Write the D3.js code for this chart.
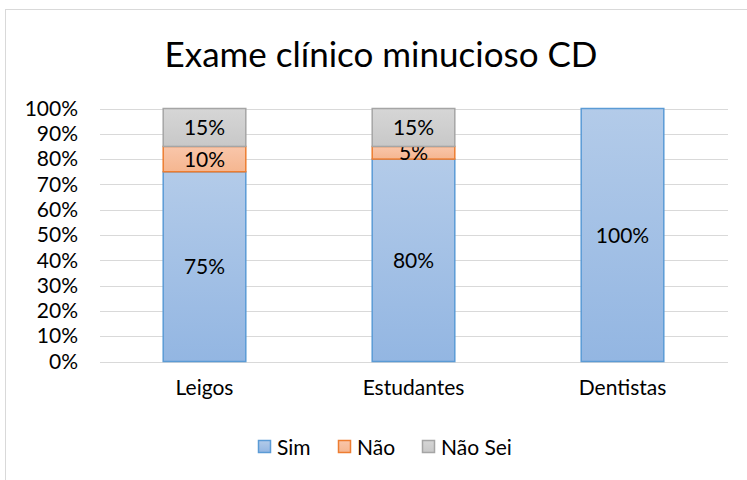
<!DOCTYPE html>
<html>
<head>
<meta charset="utf-8">
<script src="https://cdn.jsdelivr.net/npm/d3@7"></script>
<style>
  body { margin: 0; background: #fff; }
  svg { font-family: Lato, 'Open Sans', sans-serif; }
</style>
</head>
<body>
<div id="chart"></div>
<script>
const categories = ['Leigos', 'Estudantes', 'Dentistas'];
const seriesNames = ['Sim', 'Não', 'Não Sei'];
const sim = [75, 80, 100];
const nao = [10, 5, 0];
const naoSei = [15, 15, 0];
const yTicks = [0, 10, 20, 30, 40, 50, 60, 70, 80, 90, 100];

const width = 747;
const height = 480;
const labelSize = 21;

const colors = {
  'Sim': { top: '#b3cbe9', bottom: '#93b6e2', stroke: '#5b9bd5' },
  'Não': { top: '#f9c6aa', bottom: '#f5b690', stroke: '#ed7d31' },
  'Não Sei': { top: '#d6d6d6', bottom: '#c8c8c8', stroke: '#a5a5a5' }
};

const svg = d3.select('#chart')
  .append('svg')
  .attr('width', width)
  .attr('height', height);

// gradients for the bar fills
const defs = svg.append('defs');
seriesNames.forEach((name, i) => {
  const g = defs.append('linearGradient')
    .attr('id', 'grad' + i)
    .attr('x1', 0).attr('y1', 0).attr('x2', 0).attr('y2', 1);
  g.append('stop').attr('offset', '0%').attr('stop-color', colors[name].top);
  g.append('stop').attr('offset', '100%').attr('stop-color', colors[name].bottom);
});

// chart border (runs off right/bottom edges)
svg.append('rect')
  .attr('x', 5.5).attr('y', 9.5)
  .attr('width', 760).attr('height', 490)
  .attr('fill', '#fff')
  .attr('stroke', '#d9d9d9')
  .attr('stroke-width', 1);

svg.append('text')
  .attr('x', 381)
  .attr('y', 67)
  .attr('text-anchor', 'middle')
  .attr('font-size', 35)
  .attr('fill', '#000')
  .text('Exame clínico minucioso CD');

const xScale = d3.scaleBand()
  .domain(categories)
  .range([100, 727])
  .paddingInner(0.6)
  .paddingOuter(0.3);

const yScale = d3.scaleLinear()
  .domain([0, 100])
  .range([361.5, 108.5]);

// gridlines
svg.append('g')
  .selectAll('line')
  .data(yTicks)
  .enter()
  .append('line')
  .attr('x1', 100)
  .attr('x2', 728)
  .attr('y1', d => Math.round(yScale(d)) + 0.5)
  .attr('y2', d => Math.round(yScale(d)) + 0.5)
  .attr('stroke', '#d9d9d9')
  .attr('stroke-width', 1);

// y axis labels
const yAxis = d3.axisLeft(yScale)
  .tickValues(yTicks)
  .tickFormat(d => d + '%')
  .tickSize(0)
  .tickPadding(0);

const yG = svg.append('g')
  .attr('transform', 'translate(78, 0)')
  .call(yAxis);
yG.select('.domain').remove();
yG.selectAll('text')
  .attr('font-size', labelSize)
  .attr('font-family', 'Lato, sans-serif')
  .attr('fill', '#000');

// x axis labels
const xAxis = d3.axisBottom(xScale).tickSize(0).tickPadding(0);
const xG = svg.append('g')
  .attr('transform', 'translate(0, 380)')
  .call(xAxis);
xG.select('.domain').remove();
xG.selectAll('text')
  .attr('font-size', labelSize)
  .attr('font-family', 'Lato, sans-serif')
  .attr('fill', '#000');

// stacked data
const rows = categories.map((c, i) => ({ cat: c, 'Sim': sim[i], 'Não': nao[i], 'Não Sei': naoSei[i] }));
const stacked = d3.stack().keys(seriesNames)(rows);

const layers = svg.append('g')
  .selectAll('g')
  .data(stacked)
  .enter()
  .append('g')
  .attr('fill', (d, i) => 'url(#grad' + i + ')')
  .attr('stroke', d => colors[d.key].stroke);

layers.selectAll('rect')
  .data(d => d.filter(s => s[1] - s[0] > 0))
  .enter()
  .append('rect')
  .attr('x', d => xScale(d.data.cat) + 0.5)
  .attr('y', d => yScale(d[1]))
  .attr('width', xScale.bandwidth() - 1)
  .attr('height', d => yScale(d[0]) - yScale(d[1]))
  .attr('stroke-width', 1.5);

// data labels
layers.selectAll('text')
  .data(d => d.filter(s => s[1] - s[0] > 0))
  .enter()
  .append('text')
  .attr('x', d => xScale(d.data.cat) + xScale.bandwidth() / 2)
  .attr('y', d => yScale((d[0] + d[1]) / 2))
  .attr('dy', '0.36em')
  .attr('text-anchor', 'middle')
  .attr('font-size', labelSize)
  .attr('fill', '#000')
  .attr('stroke', 'none')
  .text(d => (d[1] - d[0]) + '%');

// legend
const legendX = [258, 338, 422];
const legend = svg.append('g')
  .selectAll('g')
  .data(seriesNames)
  .enter()
  .append('g')
  .attr('transform', (d, i) => 'translate(' + legendX[i] + ', 440)');

legend.append('rect')
  .attr('x', 0.5).attr('y', 0.5)
  .attr('width', 12).attr('height', 12)
  .attr('fill', (d, i) => 'url(#grad' + i + ')')
  .attr('stroke', d => colors[d].stroke)
  .attr('stroke-width', 1.5);

legend.append('text')
  .attr('x', 19)
  .attr('y', 7)
  .attr('dy', '0.36em')
  .attr('font-size', labelSize)
  .attr('fill', '#000')
  .text(d => d);
</script>
</body>
</html>
